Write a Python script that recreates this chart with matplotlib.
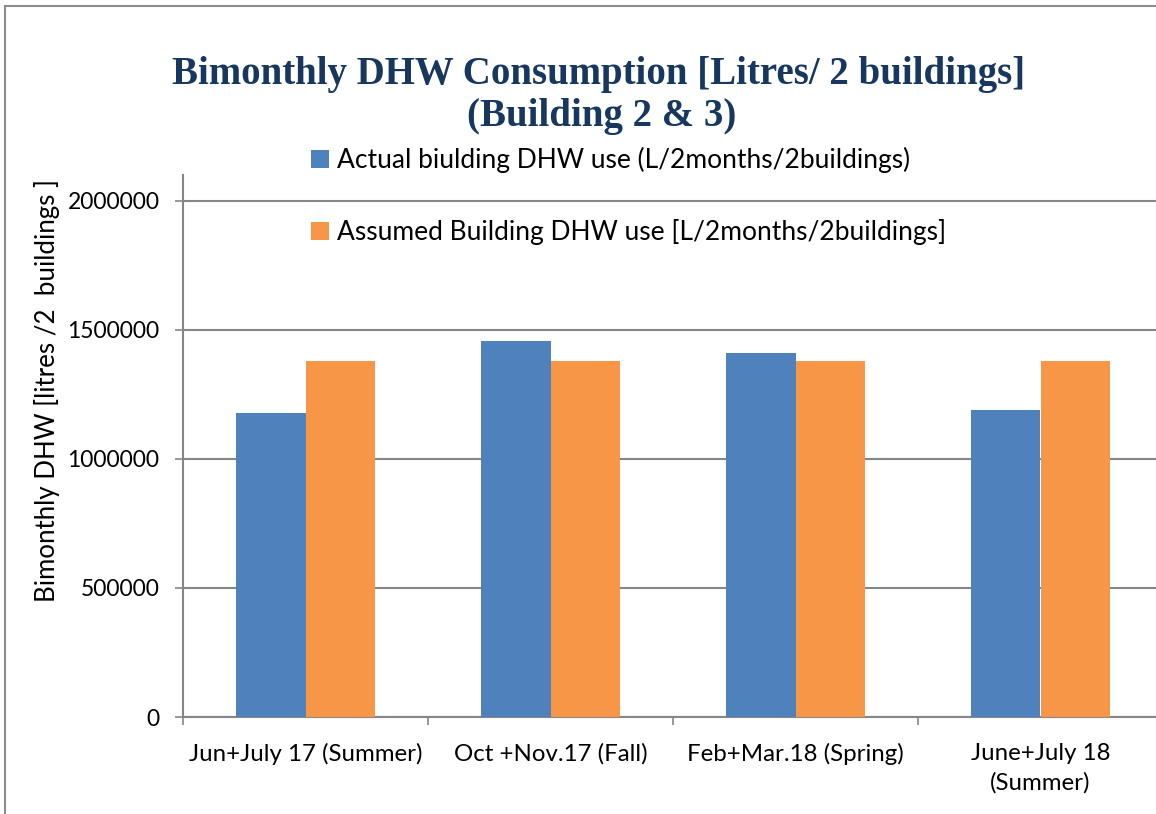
import matplotlib
matplotlib.use("Agg")
import matplotlib.pyplot as plt
import numpy as np
from matplotlib.patches import Rectangle

categories = ["Jun+July 17 (Summer)", "Oct +Nov.17 (Fall)", "Feb+Mar.18 (Spring)", "June+July 18\n(Summer)"]
actual = [1176000, 1456000, 1412000, 1191000]
assumed = [1381000, 1381000, 1381000, 1381000]
series_names = ["Actual biulding DHW use (L/2months/2buildings)",
                "Assumed Building DHW use [L/2months/2buildings]"]
yticks = [0, 500000, 1000000, 1500000, 2000000]

W, H = 1156, 814
fig = plt.figure(figsize=(W / 100, H / 100), dpi=100)
plt.rcParams['font.family'] = ['Lato', 'DejaVu Sans']

def fx(px):
    return px / W

def fy(py):
    return 1 - py / H

# outer chart border (partially cropped)
fig.patches.append(Rectangle((fx(5), fy(900)), 2.0, fy(6) - fy(900), transform=fig.transFigure,
                             fill=False, edgecolor="#8c8c8c", linewidth=1.5))

ax = fig.add_axes([fx(183), fy(717), fx(1163) - fx(183), fy(175) - fy(717)])
x = np.arange(len(categories))
bw = 0.2857
blue = "#4F81BD"
orange = "#F79646"
ax.bar(x - bw / 2, actual, width=bw, color=blue, label=series_names[0], zorder=3)
ax.bar(x + bw / 2, assumed, width=bw, color=orange, label=series_names[1], zorder=3)

ax.set_xlim(-0.5, len(categories) - 0.5)
ax.set_ylim(0, 2100000)
ax.set_yticks(yticks)
ax.set_yticklabels([str(v) for v in yticks], fontsize=16.5)
ax.set_xticks(x)
ax.set_xticklabels(categories, fontsize=17.3)
ax.set_xticks(np.arange(len(categories) + 1) - 0.5, minor=True)
ax.tick_params(axis='x', which='major', length=0, pad=19)
ax.tick_params(axis='x', which='minor', length=6, color="#868686", width=1.2)
ax.tick_params(axis='y', length=6, color="#868686", width=1.2, pad=11)
for lab in ax.get_xticklabels():
    lab.set_linespacing(1.45)

ax.grid(axis='y', color="#868686", linewidth=1.5, zorder=0)
for s in ['top', 'right']:
    ax.spines[s].set_visible(False)
for s in ['left', 'bottom']:
    ax.spines[s].set_color("#868686")
    ax.spines[s].set_linewidth(1.5)

leg = ax.legend(loc='upper left', bbox_to_anchor=(fx(311), fy(147)), bbox_transform=fig.transFigure,
                frameon=False, fontsize=19, handlelength=0.7, handleheight=0.7,
                handletextpad=0.3, labelspacing=1.75, borderaxespad=0, borderpad=0)

fig.text(fx(47), fy(390), "Bimonthly DHW [litres /2  buildings ]", rotation=90,
         ha='center', va='center', fontsize=18.6)

title_color = "#17375E"
fig.text(fx(599), fy(84), "Bimonthly DHW Consumption [Litres/ 2 buildings]", ha='center', va='baseline',
         fontsize=28, fontweight='bold', color=title_color, family=['Liberation Serif', 'DejaVu Serif'])
fig.text(fx(602), fy(126), "(Building 2 & 3)", ha='center', va='baseline',
         fontsize=28, fontweight='bold', color=title_color, family=['Liberation Serif', 'DejaVu Serif'])

fig.savefig("out.png", dpi=100)
